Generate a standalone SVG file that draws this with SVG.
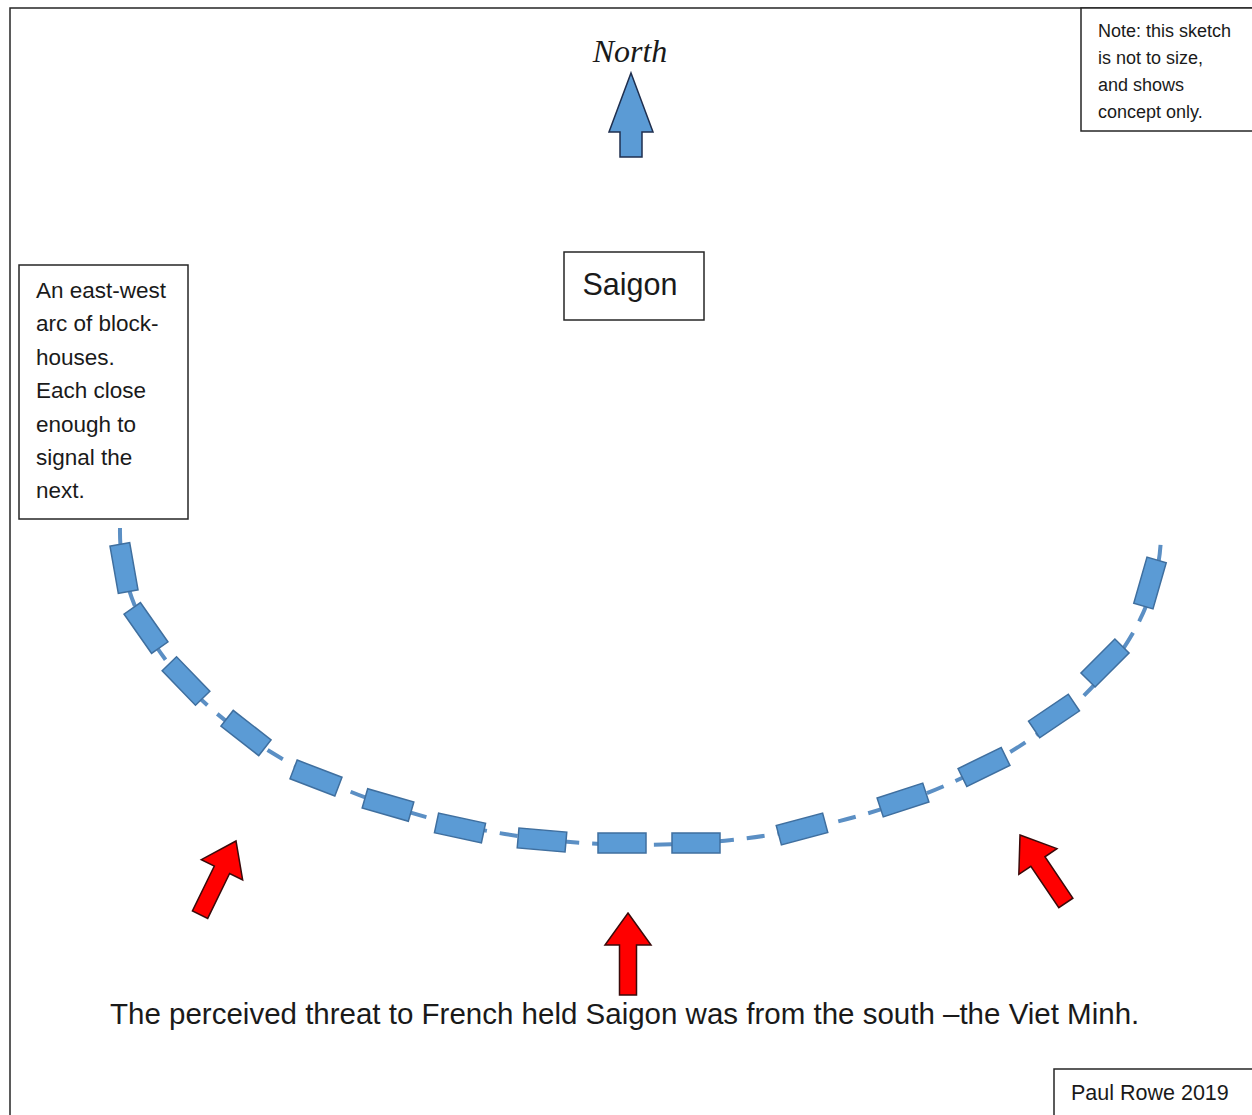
<svg xmlns="http://www.w3.org/2000/svg" xmlns:xlink="http://www.w3.org/1999/xlink" width="1252" height="1115" viewBox="0 0 1252 1115">
<style>
.box{fill:#fff;stroke:#262626;stroke-width:1.5}
.txt{font-family:"Liberation Sans",Arial,sans-serif;fill:#1a1a1a}
.bh{fill:#5b9bd5;stroke:#3f6f9f;stroke-width:1.5}
.red{fill:#ff0000;stroke:#3a0a0a;stroke-width:1.5;stroke-linejoin:miter}
</style>
<defs>
<path id="redArrow" d="M0,0 L23,32 L8.5,32 L8.5,82 L-8.5,82 L-8.5,32 L-23,32 Z"/>
<rect id="blockhouse" x="-24" y="-10" width="48" height="20"/>
</defs>
<rect width="1252" height="1115" fill="#fff"/>
<g id="frame"><path d="M10,1120 L10,8 L1260,8" fill="none" stroke="#262626" stroke-width="1.5"/></g>

<g id="note">
<rect class="box" x="1081" y="8" width="200" height="123"/>
<text class="txt" font-size="18" x="1098" y="37">Note: this sketch</text>
<text class="txt" font-size="18" x="1098" y="64">is not to size,</text>
<text class="txt" font-size="18" x="1098" y="91">and shows</text>
<text class="txt" font-size="18" x="1098" y="118">concept only.</text>
</g>

<g id="north">
<text x="630" y="62" text-anchor="middle" font-family="'Liberation Serif',serif" font-style="italic" font-size="32" fill="#1a1a1a">North</text>
<path d="M631,73 L653,132 L642,132 L642,157 L620,157 L620,132 L609,132 Z" fill="#5b9bd5" stroke="#1f2f4f" stroke-width="1.5"/>
</g>

<g id="saigon">
<rect class="box" x="564" y="252" width="140" height="68"/>
<text class="txt" font-size="30.5" x="630" y="295" text-anchor="middle">Saigon</text>
</g>

<g id="arc-note">
<rect class="box" x="19" y="265" width="169" height="254"/>
<text class="txt" font-size="22.5" x="36" y="298">An east-west</text>
<text class="txt" font-size="22.5" x="36" y="331">arc of block-</text>
<text class="txt" font-size="22.5" x="36" y="365">houses.</text>
<text class="txt" font-size="22.5" x="36" y="398">Each close</text>
<text class="txt" font-size="22.5" x="36" y="432">enough to</text>
<text class="txt" font-size="22.5" x="36" y="465">signal the</text>
<text class="txt" font-size="22.5" x="36" y="498">next.</text>
</g>

<g id="connectors">
<path d="M120,528 A520,313 0 0 0 1161,535" fill="none" stroke="#5b8fc4" stroke-width="4" stroke-dasharray="18 13"/>
</g>

<g id="blockhouses" class="bh">
<use xlink:href="#blockhouse" transform="translate(124,568) rotate(80)"/>
<use xlink:href="#blockhouse" transform="translate(146,628) rotate(55)"/>
<use xlink:href="#blockhouse" transform="translate(186,681) rotate(46)"/>
<use xlink:href="#blockhouse" transform="translate(246,733) rotate(38)"/>
<use xlink:href="#blockhouse" transform="translate(316,778) rotate(21)"/>
<use xlink:href="#blockhouse" transform="translate(388,805) rotate(16)"/>
<use xlink:href="#blockhouse" transform="translate(460,828) rotate(12)"/>
<use xlink:href="#blockhouse" transform="translate(542,840) rotate(5)"/>
<use xlink:href="#blockhouse" transform="translate(622,843)"/>
<use xlink:href="#blockhouse" transform="translate(696,843)"/>
<use xlink:href="#blockhouse" transform="translate(802,829) rotate(-15)"/>
<use xlink:href="#blockhouse" transform="translate(903,800) rotate(-18)"/>
<use xlink:href="#blockhouse" transform="translate(984,767) rotate(-26)"/>
<use xlink:href="#blockhouse" transform="translate(1054,716) rotate(-34)"/>
<use xlink:href="#blockhouse" transform="translate(1105,663) rotate(-45)"/>
<use xlink:href="#blockhouse" transform="translate(1150,583) rotate(-74)"/>
</g>

<g id="threats" class="red">
<use xlink:href="#redArrow" transform="translate(236,841) rotate(26)"/>
<use xlink:href="#redArrow" transform="translate(628,913)"/>
<use xlink:href="#redArrow" transform="translate(1020,835) rotate(-34)"/>
</g>

<g id="caption">
<text class="txt" font-size="29.5" x="110" y="1024">The perceived threat to French held Saigon was from the south –the Viet Minh.</text>
</g>

<g id="credit">
<rect class="box" x="1054" y="1069" width="220" height="60"/>
<text class="txt" font-size="21.5" x="1071" y="1100">Paul Rowe 2019</text>
</g>
</svg>
